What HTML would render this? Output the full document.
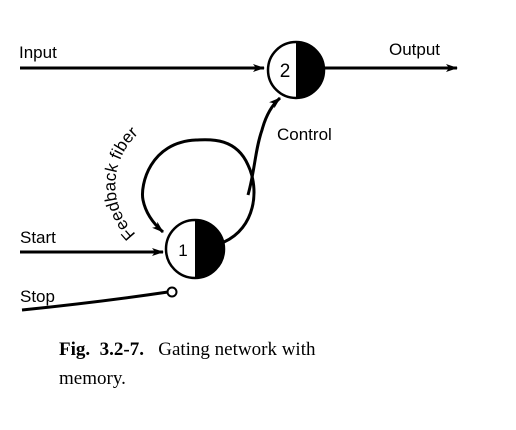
<!DOCTYPE html>
<html><head><style>
html,body{margin:0;padding:0;background:#fff;}
svg{display:block;}
</style></head><body>
<svg width="516" height="430" viewBox="0 0 516 430" xmlns="http://www.w3.org/2000/svg">
<defs>
<marker id="a" markerWidth="12" markerHeight="8" refX="11" refY="4" orient="auto" markerUnits="userSpaceOnUse">
<path d="M0,0 L12,4 L0,8 L3,4 Z" fill="#000"/>
</marker>
<path id="fp" d="M136,234 A63,63 0 0 1 232,136"/>
</defs>
<g stroke="#000" stroke-width="3" fill="none">
<line x1="20" y1="68" x2="264" y2="68" marker-end="url(#a)"/>
<line x1="325" y1="68" x2="457" y2="68" marker-end="url(#a)"/>
<line x1="20" y1="252" x2="163" y2="252" marker-end="url(#a)"/>
<path d="M22,310 Q100,302 168,292"/>
<path d="M224,242 C255,228 260,190 248,165 C235,135 205,140 196,140 C150,142 140,185 143,200 C146,215 155,225 163,232" marker-end="url(#a)"/>
<path d="M248,195 C255,170 255,150 262,130 C266,115 272,105 280,98" marker-end="url(#a)"/>
</g>
<circle cx="172" cy="292" r="4.5" fill="#fff" stroke="#000" stroke-width="2"/>
<circle cx="296" cy="70" r="28" fill="#fff" stroke="#000" stroke-width="2.5"/>
<path d="M296,42 A28,28 0 0 1 296,98 Z" fill="#000"/>
<circle cx="195" cy="249" r="29" fill="#fff" stroke="#000" stroke-width="2.5"/>
<path d="M195,220 A29,29 0 0 1 195,278 Z" fill="#000"/>
<g font-family="Liberation Sans, sans-serif" font-size="17" fill="#000">
<text x="285" y="77" text-anchor="middle" font-size="19">2</text>
<text x="183" y="256" text-anchor="middle" font-size="17">1</text>
<text x="19" y="58">Input</text>
<text x="389" y="55">Output</text>
<text x="277" y="140">Control</text>
<text x="20" y="243">Start</text>
<text x="20" y="302">Stop</text>
<text font-size="17"><textPath href="#fp">Feedback fiber</textPath></text>
</g>
<g font-family="Liberation Serif, serif" font-size="19" fill="#000">
<text x="59" y="355"><tspan font-weight="bold">Fig.&#160; 3.2-7.</tspan>&#160;&#160; Gating network with</text>
<text x="59" y="384">memory.</text>
</g>
</svg>
</body></html>
